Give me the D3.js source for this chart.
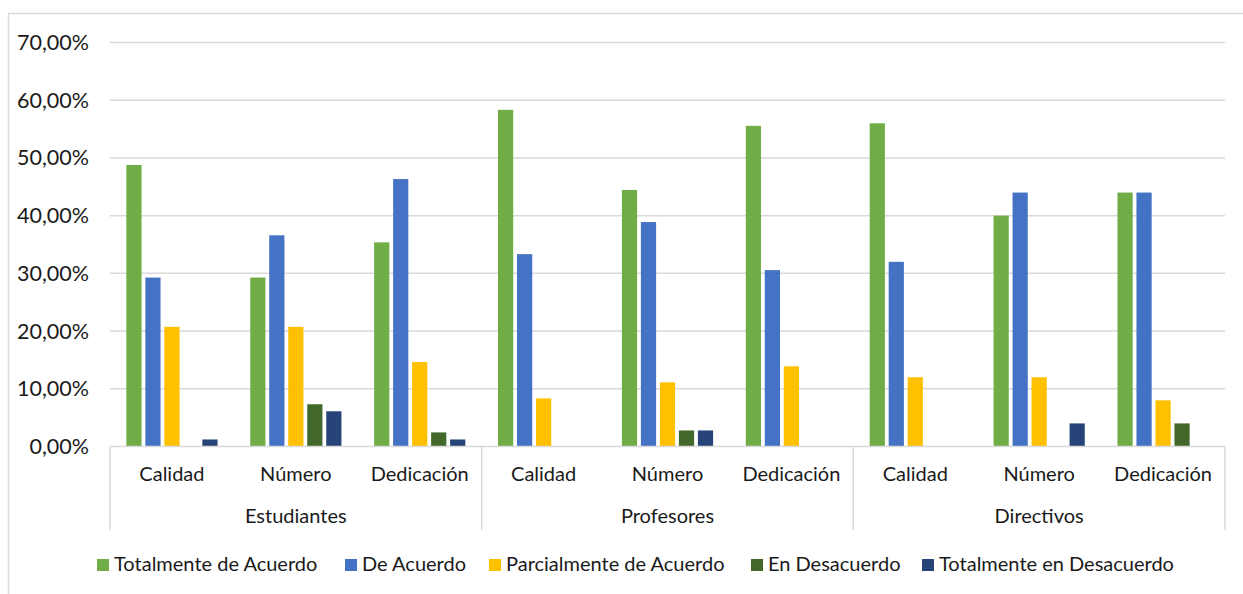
<!DOCTYPE html>
<html><head><meta charset="utf-8">
<script src="https://cdn.jsdelivr.net/npm/d3@7"></script>
<style>body{margin:0;background:#fff}svg{display:block;font-family:Lato,"Open Sans",sans-serif}</style>
</head><body><svg id="c" width="1243" height="594"></svg>
<script>
const groups = ["Estudiantes","Profesores","Directivos"];
const categories = ["Calidad","Número","Dedicación"];
const seriesNames = ["Totalmente de Acuerdo","De Acuerdo","Parcialmente de Acuerdo","En Desacuerdo","Totalmente en Desacuerdo"];
const colors = ["#70AD47","#4472C4","#FFC000","#43682B","#264478"];
// values per series, in order of group x category
const totalmenteAcuerdo = [48.78,29.27,35.37, 58.33,44.44,55.56, 56,40,44];
const deAcuerdo         = [29.27,36.59,46.34, 33.33,38.89,30.56, 32,44,44];
const parcialmente      = [20.73,20.73,14.63, 8.33,11.11,13.89, 12,12,8];
const enDesacuerdo      = [0,7.32,2.44, 0,2.78,0, 0,0,4];
const totalDesacuerdo   = [1.22,6.10,1.22, 0,2.78,0, 0,4,0];
const seriesValues = [totalmenteAcuerdo,deAcuerdo,parcialmente,enDesacuerdo,totalDesacuerdo];
const yTicks = [0,10,20,30,40,50,60,70];

const svg = d3.select("#c");
const L = 110, R = 1225, T = 42.5, B = 446.5;
const fmt = v => d3.format(".2f")(v).replace(".", ",") + "%";

// outer border
svg.append("path").attr("d","M8.5,594 V13.5 H1243").attr("fill","none").attr("stroke","#D9D9D9").attr("stroke-width",1.5);

const keys = [];
groups.forEach(g => categories.forEach(c => keys.push(g + "|" + c)));
const x0 = d3.scaleBand().domain(keys).range([L, R]).padding(0);
const x1 = d3.scaleBand().domain(d3.range(5)).range([0, x0.bandwidth()]).paddingInner(0.2).paddingOuter(0.86);
const y = d3.scaleLinear().domain([0, 70]).range([B, T]);

// gridlines
svg.append("g").selectAll("line").data(yTicks.slice(1)).join("line")
  .attr("x1", L).attr("x2", R).attr("y1", d => y(d)).attr("y2", d => y(d))
  .attr("stroke", "#D9D9D9").attr("stroke-width", 1.5);

// y labels
svg.append("g").selectAll("text").data(yTicks).join("text")
  .attr("x", 89).attr("y", d => y(d)).attr("dy", "0.35em").attr("text-anchor", "end")
  .attr("font-size", 21.5).attr("fill", "#1a1a1a").text(fmt);

// bars
const barG = svg.append("g");
keys.forEach((k, i) => {
  seriesValues.forEach((vals, s) => {
    const v = vals[i];
    if (v <= 0) return;
    barG.append("rect")
      .attr("x", x0(k) + x1(s)).attr("width", x1.bandwidth())
      .attr("y", y(v)).attr("height", B - y(v))
      .attr("fill", colors[s]);
  });
});

// axis line
svg.append("line").attr("x1", L).attr("x2", R).attr("y1", B).attr("y2", B).attr("stroke", "#D9D9D9").attr("stroke-width", 1.5);
// group separators
const gw = x0.bandwidth() * categories.length;
svg.append("g").selectAll("line").data(d3.range(groups.length + 1)).join("line")
  .attr("x1", d => L + d * gw).attr("x2", d => L + d * gw)
  .attr("y1", B).attr("y2", 530).attr("stroke", "#D9D9D9").attr("stroke-width", 1.5);

// category labels
svg.append("g").selectAll("text").data(keys).join("text")
  .attr("x", d => x0(d) + x0.bandwidth() / 2).attr("y", 481)
  .attr("text-anchor", "middle").attr("font-size", 20).attr("fill", "#1a1a1a")
  .text(d => d.split("|")[1]);
// group labels
svg.append("g").selectAll("text").data(groups).join("text")
  .attr("x", (d, i) => L + i * gw + gw / 2).attr("y", 523)
  .attr("text-anchor", "middle").attr("font-size", 20).attr("fill", "#1a1a1a").text(d => d);

// legend
const legX = [97, 345, 489, 751, 922];
const leg = svg.append("g");
seriesNames.forEach((n, i) => {
  leg.append("rect").attr("x", legX[i]).attr("y", 559).attr("width", 12).attr("height", 12).attr("fill", colors[i]);
  leg.append("text").attr("x", legX[i] + 17).attr("y", 571).attr("font-size", 20).attr("fill", "#1a1a1a").text(n);
});
</script></body></html>
